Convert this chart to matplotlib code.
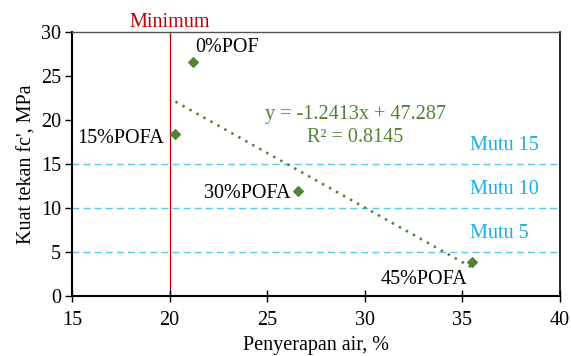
import matplotlib
matplotlib.use("Agg")
import matplotlib.pyplot as plt
import numpy as np

plt.rcParams['font.family'] = ['Liberation Serif', 'DejaVu Serif']

absorption = [21.2, 20.3, 26.6, 35.5]
strength = [26.6, 18.4, 11.9, 3.9]
labels = ["0%POF", "15%POFA", "30%POFA", "45%POFA"]
slope, intercept = -1.2413, 47.287
mutu_levels = [15, 10, 5]
mutu_labels = ["Mutu 15", "Mutu 10", "Mutu 5"]
minimum_x = 20
xticks = [15, 20, 25, 30, 35, 40]
yticks = [0, 5, 10, 15, 20, 25, 30]

fig = plt.figure(figsize=(5.71, 3.56), dpi=100)
ax = fig.add_axes([72/571, 60/356, 488/571, 264/356])

green = '#548235'
blue_line = '#5BC8E8'
blue_txt = '#1CADE4'
red = '#C00000'

for lv in mutu_levels:
    ax.axhline(lv, color=blue_line, lw=1.0, ls=(0, (5, 3)), zorder=1)
ax.axvline(minimum_x, color=red, lw=0.9, zorder=1)

ax.scatter(absorption, strength, marker='D', s=24, color=green, zorder=3)
xt = np.array([min(absorption), max(absorption)])
ax.plot(xt, slope * xt + intercept, color=green, lw=1.8, ls=(0, (1, 2.2)), zorder=2)

fs = 14.5
# label placements (position, alignment)
lab_pos = {
    "0%POF": (21.3, 28.2, 'left'),
    "15%POFA": (19.7, 17.9, 'right'),
    "30%POFA": (26.2, 11.7, 'right'),
    "45%POFA": (33.05, 1.9, 'center'),
}
for t in labels:
    x, y, ha = lab_pos[t]
    ax.text(x, y, t, fontsize=fs, ha=ha, va='center')

ax.text(29.5, 20.6, "y = -1.2413x + 47.287", fontsize=fs, color=green, ha='center', va='center')
ax.text(29.5, 18.0, "R² = 0.8145", fontsize=fs, color=green, ha='center', va='center')

for lv, t in zip(mutu_levels, mutu_labels):
    ax.text(35.4, lv + 2.1, t, fontsize=fs, color=blue_txt, ha='left', va='center')

ax.text(minimum_x, 31.1, "Minimum", fontsize=fs, color=red, ha='center', va='center', clip_on=False)

ax.set_xlim(15, 40)
ax.set_ylim(0, 30)
ax.set_xticks(xticks)
ax.set_yticks(yticks)
ax.tick_params(axis='x', direction='inout', length=8, width=1.0, labelsize=fs, pad=7)
ax.tick_params(axis='y', direction='out', length=5, width=1.0, labelsize=fs, pad=3)
ax.set_xlabel("Penyerapan air, %", fontsize=fs, labelpad=4)
ax.set_ylabel("Kuat tekan fc', MPa", fontsize=fs, labelpad=3)

for s in ['left', 'bottom']:
    ax.spines[s].set_linewidth(1.5)
    ax.spines[s].set_color('black')
ax.spines['right'].set_linewidth(1.2)
ax.spines['right'].set_color('black')
ax.spines['top'].set_linewidth(1.0)
ax.spines['top'].set_color('#555555')

fig.savefig("out.png", dpi=100)
